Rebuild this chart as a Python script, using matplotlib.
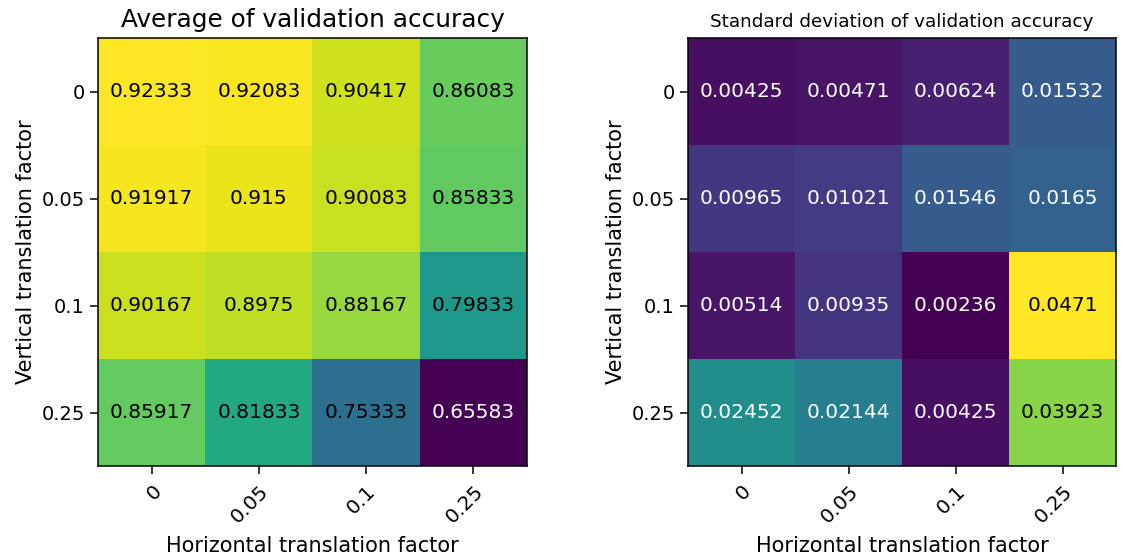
import matplotlib
matplotlib.use("Agg")
import matplotlib.pyplot as plt
import numpy as np

h_factors = ["0", "0.05", "0.1", "0.25"]
v_factors = ["0", "0.05", "0.1", "0.25"]

# rows: vertical factor, columns: horizontal factor
acc_mean = np.array([
    [0.92333, 0.92083, 0.90417, 0.86083],
    [0.91917, 0.915, 0.90083, 0.85833],
    [0.90167, 0.8975, 0.88167, 0.79833],
    [0.85917, 0.81833, 0.75333, 0.65583],
])
acc_std = np.array([
    [0.00425, 0.00471, 0.00624, 0.01532],
    [0.00965, 0.01021, 0.01546, 0.0165],
    [0.00514, 0.00935, 0.00236, 0.0471],
    [0.02452, 0.02144, 0.00425, 0.03923],
])

fig = plt.figure(figsize=(11.21, 5.58), dpi=100)
ax1 = fig.add_axes([98 / 1121, 1 - 466 / 558, 429 / 1121, 428 / 558])
ax2 = fig.add_axes([688 / 1121, 1 - 466 / 558, 428 / 1121, 428 / 558])


def heatmap(ax, data, title, title_size, white_below):
    ax.imshow(data, cmap="viridis", aspect="auto")
    lo, hi = data.min(), data.max()
    for i in range(data.shape[0]):
        for j in range(data.shape[1]):
            norm = (data[i, j] - lo) / (hi - lo)
            color = "white" if norm < white_below else "black"
            ax.text(j, i, f"{data[i, j]:g}", ha="center", va="center",
                    color=color, fontsize=14.5)
    ax.set_xticks(range(len(h_factors)))
    ax.set_xticklabels(h_factors, rotation=45, ha="right",
                       rotation_mode="anchor", fontsize=14.5)
    ax.set_yticks(range(len(v_factors)))
    ax.set_yticklabels(v_factors, fontsize=14)
    ax.tick_params(length=6, width=1.1)
    ax.tick_params(axis="x", pad=5)
    for sp in ax.spines.values():
        sp.set_linewidth(1.1)
    ax.set_xlabel("Horizontal translation factor", fontsize=15, labelpad=7)
    ax.set_ylabel("Vertical translation factor", fontsize=15)
    ax.set_title(title, fontsize=title_size, pad=8)


heatmap(ax1, acc_mean, "Average of validation accuracy", 17.8, 0.2)
heatmap(ax2, acc_std, "Standard deviation of validation accuracy", 13.2, 0.6)

fig.savefig("out.png", dpi=100)
